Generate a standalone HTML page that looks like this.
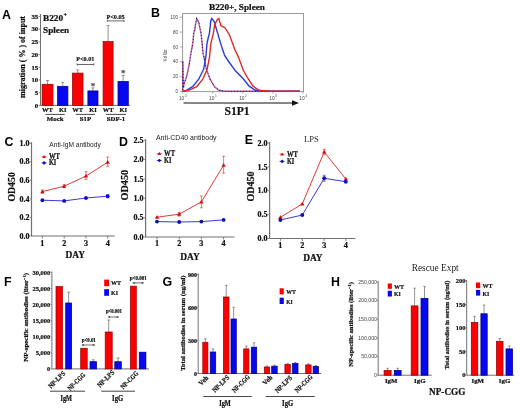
<!DOCTYPE html>
<html><head><meta charset="utf-8"><style>
html,body{margin:0;padding:0;background:#fff;width:520px;height:409px;overflow:hidden}
svg{display:block;will-change:transform;filter:blur(0.35px)}
</style></head><body>
<svg width="520" height="409" viewBox="0 0 520 409">
<rect width="520" height="409" fill="#fff"/>
<text x="2.0" y="18.9" font-family="Liberation Sans" font-weight="bold" font-size="12.4" text-anchor="start" fill="#000">A</text>
<line x1="40.5" y1="14" x2="40.5" y2="105.4" stroke="#707070" stroke-width="1"/>
<line x1="40.5" y1="105.4" x2="130" y2="105.4" stroke="#707070" stroke-width="1"/>
<line x1="38.5" y1="105.4" x2="40.5" y2="105.4" stroke="#707070" stroke-width="0.8"/>
<text x="38.2" y="107.7" font-family="Liberation Serif" font-weight="bold" font-size="6.8" text-anchor="end" fill="#111" stroke="#111" stroke-width="0.22">0</text>
<line x1="38.5" y1="92.69" x2="40.5" y2="92.69" stroke="#707070" stroke-width="0.8"/>
<text x="38.2" y="94.99" font-family="Liberation Serif" font-weight="bold" font-size="6.8" text-anchor="end" fill="#111" stroke="#111" stroke-width="0.22">5</text>
<line x1="38.5" y1="79.98" x2="40.5" y2="79.98" stroke="#707070" stroke-width="0.8"/>
<text x="38.2" y="82.28" font-family="Liberation Serif" font-weight="bold" font-size="6.8" text-anchor="end" fill="#111" stroke="#111" stroke-width="0.22">10</text>
<line x1="38.5" y1="67.27000000000001" x2="40.5" y2="67.27000000000001" stroke="#707070" stroke-width="0.8"/>
<text x="38.2" y="69.57000000000001" font-family="Liberation Serif" font-weight="bold" font-size="6.8" text-anchor="end" fill="#111" stroke="#111" stroke-width="0.22">15</text>
<line x1="38.5" y1="54.56" x2="40.5" y2="54.56" stroke="#707070" stroke-width="0.8"/>
<text x="38.2" y="56.86" font-family="Liberation Serif" font-weight="bold" font-size="6.8" text-anchor="end" fill="#111" stroke="#111" stroke-width="0.22">20</text>
<line x1="38.5" y1="41.85" x2="40.5" y2="41.85" stroke="#707070" stroke-width="0.8"/>
<text x="38.2" y="44.15" font-family="Liberation Serif" font-weight="bold" font-size="6.8" text-anchor="end" fill="#111" stroke="#111" stroke-width="0.22">25</text>
<line x1="38.5" y1="29.14" x2="40.5" y2="29.14" stroke="#707070" stroke-width="0.8"/>
<text x="38.2" y="31.44" font-family="Liberation Serif" font-weight="bold" font-size="6.8" text-anchor="end" fill="#111" stroke="#111" stroke-width="0.22">30</text>
<line x1="38.5" y1="16.429999999999993" x2="40.5" y2="16.429999999999993" stroke="#707070" stroke-width="0.8"/>
<text x="38.2" y="18.729999999999993" font-family="Liberation Serif" font-weight="bold" font-size="6.8" text-anchor="end" fill="#111" stroke="#111" stroke-width="0.22">35</text>
<text x="25.2" y="57" font-family="Liberation Serif" font-weight="bold" font-size="9.2" text-anchor="middle" fill="#111" stroke="#111" stroke-width="0.22" textLength="82" lengthAdjust="spacingAndGlyphs" transform="rotate(-90 25.2 57)">migration ( % ) of input</text>
<text x="43.1" y="21.3" font-family="Liberation Serif" font-weight="bold" font-size="9" text-anchor="start" fill="#111" stroke="#111" stroke-width="0.22" textLength="20" lengthAdjust="spacingAndGlyphs">B220</text>
<text x="63.6" y="17" font-family="Liberation Serif" font-weight="bold" font-size="6" text-anchor="start" fill="#111" stroke="#111" stroke-width="0.22">+</text>
<text x="43.1" y="32.5" font-family="Liberation Serif" font-weight="bold" font-size="9" text-anchor="start" fill="#111" stroke="#111" stroke-width="0.22" textLength="26" lengthAdjust="spacingAndGlyphs">Spleen</text>
<line x1="47.55" y1="80.5" x2="47.55" y2="84.3014" stroke="#777" stroke-width="0.8"/>
<line x1="46.05" y1="80.5" x2="49.05" y2="80.5" stroke="#777" stroke-width="0.8"/>
<rect x="42.1" y="84.3014" width="10.899999999999999" height="21.098600000000005" fill="#fa0000" stroke="#9a0000" stroke-width="0.75"/>
<line x1="62.75" y1="82.3" x2="62.75" y2="86.33500000000001" stroke="#777" stroke-width="0.8"/>
<line x1="61.25" y1="82.3" x2="64.25" y2="82.3" stroke="#777" stroke-width="0.8"/>
<rect x="57.6" y="86.33500000000001" width="10.300000000000004" height="19.064999999999998" fill="#0808f0" stroke="#000080" stroke-width="0.75"/>
<line x1="77.75" y1="70" x2="77.75" y2="73.1166" stroke="#777" stroke-width="0.8"/>
<line x1="76.25" y1="70" x2="79.25" y2="70" stroke="#777" stroke-width="0.8"/>
<rect x="72.5" y="73.1166" width="10.5" height="32.2834" fill="#fa0000" stroke="#9a0000" stroke-width="0.75"/>
<line x1="92.95" y1="87.9" x2="92.95" y2="90.9106" stroke="#777" stroke-width="0.8"/>
<line x1="91.45" y1="87.9" x2="94.45" y2="87.9" stroke="#777" stroke-width="0.8"/>
<rect x="87.9" y="90.9106" width="10.099999999999994" height="14.489400000000003" fill="#0808f0" stroke="#000080" stroke-width="0.75"/>
<line x1="108.1" y1="25.6" x2="108.1" y2="41.5958" stroke="#777" stroke-width="0.8"/>
<line x1="106.6" y1="25.6" x2="109.6" y2="25.6" stroke="#777" stroke-width="0.8"/>
<rect x="103.1" y="41.5958" width="10.0" height="63.80420000000001" fill="#fa0000" stroke="#9a0000" stroke-width="0.75"/>
<line x1="123.15" y1="75.4" x2="123.15" y2="81.5052" stroke="#777" stroke-width="0.8"/>
<line x1="121.65" y1="75.4" x2="124.65" y2="75.4" stroke="#777" stroke-width="0.8"/>
<rect x="118" y="81.5052" width="10.300000000000011" height="23.894800000000004" fill="#0808f0" stroke="#000080" stroke-width="0.75"/>
<text x="93" y="88.8" font-family="Liberation Serif" font-weight="bold" font-size="9" text-anchor="middle" fill="#555" stroke="#555" stroke-width="0.22">*</text>
<text x="123.2" y="76.2" font-family="Liberation Serif" font-weight="bold" font-size="9" text-anchor="middle" fill="#555" stroke="#555" stroke-width="0.22">*</text>
<text x="85.3" y="61" font-family="Liberation Serif" font-weight="bold" font-size="6.8" text-anchor="middle" fill="#111" stroke="#111" stroke-width="0.22" textLength="18" lengthAdjust="spacingAndGlyphs">P&lt;0.01</text>
<line x1="77.1" y1="64.5" x2="93.8" y2="64.5" stroke="#444" stroke-width="0.8"/>
<line x1="77.1" y1="63.3" x2="77.1" y2="65.7" stroke="#444" stroke-width="0.7"/>
<line x1="93.8" y1="63.3" x2="93.8" y2="65.7" stroke="#444" stroke-width="0.7"/>
<text x="115.6" y="18.6" font-family="Liberation Serif" font-weight="bold" font-size="6.8" text-anchor="middle" fill="#111" stroke="#111" stroke-width="0.22" textLength="18.3" lengthAdjust="spacingAndGlyphs">P&lt;0.05</text>
<line x1="107.3" y1="20.9" x2="124" y2="20.9" stroke="#444" stroke-width="0.8"/>
<line x1="107.3" y1="19.7" x2="107.3" y2="22.099999999999998" stroke="#444" stroke-width="0.7"/>
<line x1="124" y1="19.7" x2="124" y2="22.099999999999998" stroke="#444" stroke-width="0.7"/>
<text x="47.5" y="112.3" font-family="Liberation Serif" font-weight="bold" font-size="6.5" text-anchor="middle" fill="#111" stroke="#111" stroke-width="0.22">WT</text>
<text x="62.7" y="112.3" font-family="Liberation Serif" font-weight="bold" font-size="6.5" text-anchor="middle" fill="#111" stroke="#111" stroke-width="0.22">KI</text>
<text x="77.7" y="112.3" font-family="Liberation Serif" font-weight="bold" font-size="6.5" text-anchor="middle" fill="#111" stroke="#111" stroke-width="0.22">WT</text>
<text x="93" y="112.3" font-family="Liberation Serif" font-weight="bold" font-size="6.5" text-anchor="middle" fill="#111" stroke="#111" stroke-width="0.22">KI</text>
<text x="108.2" y="112.3" font-family="Liberation Serif" font-weight="bold" font-size="6.5" text-anchor="middle" fill="#111" stroke="#111" stroke-width="0.22">WT</text>
<text x="123.2" y="112.3" font-family="Liberation Serif" font-weight="bold" font-size="6.5" text-anchor="middle" fill="#111" stroke="#111" stroke-width="0.22">KI</text>
<line x1="45.5" y1="114.4" x2="64.8" y2="114.4" stroke="#333" stroke-width="0.9"/>
<text x="55.15" y="121.2" font-family="Liberation Serif" font-weight="bold" font-size="6.8" text-anchor="middle" fill="#111" stroke="#111" stroke-width="0.22">Mock</text>
<line x1="75.8" y1="114.4" x2="95" y2="114.4" stroke="#333" stroke-width="0.9"/>
<text x="85.4" y="121.2" font-family="Liberation Serif" font-weight="bold" font-size="6.8" text-anchor="middle" fill="#111" stroke="#111" stroke-width="0.22">S1P</text>
<line x1="106" y1="114.4" x2="126" y2="114.4" stroke="#333" stroke-width="0.9"/>
<text x="116.0" y="121.2" font-family="Liberation Serif" font-weight="bold" font-size="6.8" text-anchor="middle" fill="#111" stroke="#111" stroke-width="0.22">SDF-1</text>
<text x="150.9" y="17.4" font-family="Liberation Sans" font-weight="bold" font-size="12.4" text-anchor="start" fill="#000">B</text>
<text x="237" y="9.5" font-family="Liberation Serif" font-weight="bold" font-size="9" text-anchor="middle" fill="#111" stroke="#111" stroke-width="0.22" textLength="56" lengthAdjust="spacingAndGlyphs">B220+, Spleen</text>
<rect x="182.6" y="13.5" width="120.9" height="78.1" fill="none" stroke="#9a9a9a" stroke-width="1"/>
<line x1="179.6" y1="91.6" x2="182.6" y2="91.6" stroke="#777" stroke-width="0.6"/>
<text x="178.1" y="93.19999999999999" font-family="Liberation Sans" font-weight="normal" font-size="4.5" text-anchor="end" fill="#444">0</text>
<line x1="179.6" y1="76.72" x2="182.6" y2="76.72" stroke="#777" stroke-width="0.6"/>
<text x="178.1" y="78.32" font-family="Liberation Sans" font-weight="normal" font-size="4.5" text-anchor="end" fill="#444">20</text>
<line x1="179.6" y1="61.84" x2="182.6" y2="61.84" stroke="#777" stroke-width="0.6"/>
<text x="178.1" y="63.440000000000005" font-family="Liberation Sans" font-weight="normal" font-size="4.5" text-anchor="end" fill="#444">40</text>
<line x1="179.6" y1="46.96" x2="182.6" y2="46.96" stroke="#777" stroke-width="0.6"/>
<text x="178.1" y="48.56" font-family="Liberation Sans" font-weight="normal" font-size="4.5" text-anchor="end" fill="#444">60</text>
<line x1="179.6" y1="32.080000000000005" x2="182.6" y2="32.080000000000005" stroke="#777" stroke-width="0.6"/>
<text x="178.1" y="33.68000000000001" font-family="Liberation Sans" font-weight="normal" font-size="4.5" text-anchor="end" fill="#444">80</text>
<line x1="179.6" y1="17.200000000000003" x2="182.6" y2="17.200000000000003" stroke="#777" stroke-width="0.6"/>
<text x="178.1" y="18.800000000000004" font-family="Liberation Sans" font-weight="normal" font-size="4.5" text-anchor="end" fill="#444">100</text>
<text x="167" y="55.6" font-family="Liberation Sans" font-weight="normal" font-size="5" text-anchor="middle" fill="#333" textLength="12" lengthAdjust="spacingAndGlyphs" transform="rotate(-90 167 55.6)">% of Max</text>
<line x1="182.6" y1="91.6" x2="182.6" y2="93.6" stroke="#777" stroke-width="0.6"/>
<text x="181.6" y="100.2" font-family="Liberation Sans" font-weight="normal" font-size="4.8" text-anchor="middle" fill="#444">10</text>
<text x="184.79999999999998" y="97.4" font-family="Liberation Sans" font-weight="normal" font-size="3.2" text-anchor="start" fill="#444">0</text>
<line x1="212.7" y1="91.6" x2="212.7" y2="93.6" stroke="#777" stroke-width="0.6"/>
<text x="211.7" y="100.2" font-family="Liberation Sans" font-weight="normal" font-size="4.8" text-anchor="middle" fill="#444">10</text>
<text x="214.89999999999998" y="97.4" font-family="Liberation Sans" font-weight="normal" font-size="3.2" text-anchor="start" fill="#444">1</text>
<line x1="242.8" y1="91.6" x2="242.8" y2="93.6" stroke="#777" stroke-width="0.6"/>
<text x="241.8" y="100.2" font-family="Liberation Sans" font-weight="normal" font-size="4.8" text-anchor="middle" fill="#444">10</text>
<text x="245.0" y="97.4" font-family="Liberation Sans" font-weight="normal" font-size="3.2" text-anchor="start" fill="#444">2</text>
<line x1="272.9" y1="91.6" x2="272.9" y2="93.6" stroke="#777" stroke-width="0.6"/>
<text x="271.9" y="100.2" font-family="Liberation Sans" font-weight="normal" font-size="4.8" text-anchor="middle" fill="#444">10</text>
<text x="275.09999999999997" y="97.4" font-family="Liberation Sans" font-weight="normal" font-size="3.2" text-anchor="start" fill="#444">3</text>
<line x1="303.0" y1="91.6" x2="303.0" y2="93.6" stroke="#777" stroke-width="0.6"/>
<text x="302.0" y="100.2" font-family="Liberation Sans" font-weight="normal" font-size="4.8" text-anchor="middle" fill="#444">10</text>
<text x="305.2" y="97.4" font-family="Liberation Sans" font-weight="normal" font-size="3.2" text-anchor="start" fill="#444">4</text>
<line x1="183.5" y1="103" x2="294" y2="103" stroke="#111" stroke-width="1.1"/>
<polygon points="292,100.3 299,103 292,105.7" fill="#111"/>
<text x="237" y="114.8" font-family="Liberation Serif" font-weight="bold" font-size="13" text-anchor="middle" fill="#111" stroke="#111" stroke-width="0.22" textLength="25" lengthAdjust="spacingAndGlyphs">S1P1</text>
<polyline points="182.8,91.5 182.8,61.0 183.3,88.0 184.0,84.1 186.9,75.6 189.4,63.3 190.8,54.0 192.8,43.4 193.7,33.6 194.7,29.6 195.3,25.7 196.7,18.6 198.6,21.8 199.6,26.7 201.1,33.6 202.1,43.4 203.1,54.0 204.2,58.0 206.4,69.4 210.1,79.2 214.4,86.6 218.7,90.2 226.0,91.3 300.0,91.3" fill="none" stroke="#d83050" stroke-width="1.4" stroke-dasharray="1.3,1.7"/>
<polyline points="182.8,91.5 182.8,61.0 183.3,88.0 184.0,84.1 186.9,75.6 189.4,63.3 190.8,54.0 192.8,43.4 193.7,33.6 194.7,29.6 195.3,25.7 196.7,18.6 198.6,21.8 199.6,26.7 201.1,33.6 202.1,43.4 203.1,54.0 204.2,58.0 206.4,69.4 210.1,79.2 214.4,86.6 218.7,90.2 226.0,91.3 300.0,91.3" fill="none" stroke="#3020a0" stroke-width="1.4" stroke-dasharray="1.3,1.7" stroke-dashoffset="1.5"/>
<polyline points="183.0,91.3 186.9,90.2 192.6,86.6 198.7,79.2 203.6,69.4 205.8,57.2 207.0,43.4 208.4,37.0 209.4,33.6 210.8,21.0 211.8,18.4 214.3,21.8 216.3,28.7 217.8,33.6 220.6,43.4 224.6,55.4 229.0,62.0 235.4,70.8 243.0,78.5 249.2,86.2 255.4,90.3 265.0,91.3 300.0,91.3" fill="none" stroke="#2a3ad8" stroke-width="1.4"/>
<polyline points="183.0,91.3 189.3,90.2 196.7,86.6 202.8,79.2 207.1,69.4 209.5,57.2 210.9,43.4 213.3,33.6 214.8,23.8 215.5,23.3 217.0,20.0 218.7,18.4 221.0,25.7 224.9,27.7 229.5,35.0 235.0,50.0 238.8,58.0 243.5,70.8 248.0,78.5 253.0,86.2 259.0,90.3 268.6,91.3 300.0,91.3" fill="none" stroke="#e02828" stroke-width="1.4"/>
<text x="4.4" y="145.6" font-family="Liberation Sans" font-weight="bold" font-size="12.4" text-anchor="start" fill="#000">C</text>
<line x1="31.5" y1="142.2" x2="31.5" y2="236" stroke="#707070" stroke-width="1.2"/>
<line x1="31.5" y1="236" x2="114.8" y2="236" stroke="#707070" stroke-width="1.2"/>
<line x1="29.5" y1="236.0" x2="31.5" y2="236.0" stroke="#707070" stroke-width="0.8"/>
<text x="29.5" y="238.7" font-family="Liberation Serif" font-weight="bold" font-size="8" text-anchor="end" fill="#111" stroke="#111" stroke-width="0.22">0.0</text>
<line x1="29.5" y1="217.44" x2="31.5" y2="217.44" stroke="#707070" stroke-width="0.8"/>
<text x="29.5" y="220.14" font-family="Liberation Serif" font-weight="bold" font-size="8" text-anchor="end" fill="#111" stroke="#111" stroke-width="0.22">0.2</text>
<line x1="29.5" y1="198.88" x2="31.5" y2="198.88" stroke="#707070" stroke-width="0.8"/>
<text x="29.5" y="201.57999999999998" font-family="Liberation Serif" font-weight="bold" font-size="8" text-anchor="end" fill="#111" stroke="#111" stroke-width="0.22">0.4</text>
<line x1="29.5" y1="180.32" x2="31.5" y2="180.32" stroke="#707070" stroke-width="0.8"/>
<text x="29.5" y="183.01999999999998" font-family="Liberation Serif" font-weight="bold" font-size="8" text-anchor="end" fill="#111" stroke="#111" stroke-width="0.22">0.6</text>
<line x1="29.5" y1="161.76" x2="31.5" y2="161.76" stroke="#707070" stroke-width="0.8"/>
<text x="29.5" y="164.45999999999998" font-family="Liberation Serif" font-weight="bold" font-size="8" text-anchor="end" fill="#111" stroke="#111" stroke-width="0.22">0.8</text>
<line x1="29.5" y1="143.2" x2="31.5" y2="143.2" stroke="#707070" stroke-width="0.8"/>
<text x="29.5" y="145.89999999999998" font-family="Liberation Serif" font-weight="bold" font-size="8" text-anchor="end" fill="#111" stroke="#111" stroke-width="0.22">1.0</text>
<line x1="42.4" y1="236" x2="42.4" y2="238.5" stroke="#707070" stroke-width="0.9"/>
<text x="42.4" y="245.9" font-family="Liberation Serif" font-weight="bold" font-size="8.2" text-anchor="middle" fill="#111" stroke="#111" stroke-width="0.22">1</text>
<line x1="64.2" y1="236" x2="64.2" y2="238.5" stroke="#707070" stroke-width="0.9"/>
<text x="64.2" y="245.9" font-family="Liberation Serif" font-weight="bold" font-size="8.2" text-anchor="middle" fill="#111" stroke="#111" stroke-width="0.22">2</text>
<line x1="86" y1="236" x2="86" y2="238.5" stroke="#707070" stroke-width="0.9"/>
<text x="86" y="245.9" font-family="Liberation Serif" font-weight="bold" font-size="8.2" text-anchor="middle" fill="#111" stroke="#111" stroke-width="0.22">3</text>
<line x1="107.7" y1="236" x2="107.7" y2="238.5" stroke="#707070" stroke-width="0.9"/>
<text x="107.7" y="245.9" font-family="Liberation Serif" font-weight="bold" font-size="8.2" text-anchor="middle" fill="#111" stroke="#111" stroke-width="0.22">4</text>
<text x="75.3" y="257.8" font-family="Liberation Serif" font-weight="bold" font-size="9.5" text-anchor="middle" fill="#111" stroke="#111" stroke-width="0.22" textLength="19.5" lengthAdjust="spacingAndGlyphs">DAY</text>
<text x="15.5" y="186.9" font-family="Liberation Serif" font-weight="bold" font-size="10.3" text-anchor="middle" fill="#111" stroke="#111" stroke-width="0.22" textLength="29.4" lengthAdjust="spacingAndGlyphs" transform="rotate(-90 15.5 186.9)">OD450</text>
<text x="49.3" y="146.8" font-family="Liberation Sans" font-weight="normal" font-size="6.8" text-anchor="start" fill="#222" textLength="51.5" lengthAdjust="spacingAndGlyphs">Anti-IgM antibody</text>
<line x1="42.4" y1="190" x2="42.4" y2="193.2" stroke="#e04040" stroke-width="0.7"/>
<line x1="40.9" y1="190" x2="43.9" y2="190" stroke="#e04040" stroke-width="0.7"/>
<line x1="40.9" y1="193.2" x2="43.9" y2="193.2" stroke="#e04040" stroke-width="0.7"/>
<line x1="64.2" y1="184.8" x2="64.2" y2="187.6" stroke="#e04040" stroke-width="0.7"/>
<line x1="62.7" y1="184.8" x2="65.7" y2="184.8" stroke="#e04040" stroke-width="0.7"/>
<line x1="62.7" y1="187.6" x2="65.7" y2="187.6" stroke="#e04040" stroke-width="0.7"/>
<line x1="86" y1="171.7" x2="86" y2="179.5" stroke="#e04040" stroke-width="0.7"/>
<line x1="84.5" y1="171.7" x2="87.5" y2="171.7" stroke="#e04040" stroke-width="0.7"/>
<line x1="84.5" y1="179.5" x2="87.5" y2="179.5" stroke="#e04040" stroke-width="0.7"/>
<line x1="107.7" y1="157" x2="107.7" y2="166.2" stroke="#e04040" stroke-width="0.7"/>
<line x1="106.2" y1="157" x2="109.2" y2="157" stroke="#e04040" stroke-width="0.7"/>
<line x1="106.2" y1="166.2" x2="109.2" y2="166.2" stroke="#e04040" stroke-width="0.7"/>
<line x1="107.7" y1="194.6" x2="107.7" y2="197.8" stroke="#4040e0" stroke-width="0.7"/>
<line x1="106.2" y1="194.6" x2="109.2" y2="194.6" stroke="#4040e0" stroke-width="0.7"/>
<line x1="106.2" y1="197.8" x2="109.2" y2="197.8" stroke="#4040e0" stroke-width="0.7"/>
<polyline points="42.4,191.6 64.2,186.2 86.0,176.0 107.7,162.2" fill="none" stroke="#e03a3a" stroke-width="1"/>
<polyline points="42.4,200.2 64.2,200.9 86.0,198.0 107.7,196.2" fill="none" stroke="#3a3ae0" stroke-width="1"/>
<polygon points="40.199999999999996,193.2 44.6,193.2 42.4,189.4" fill="#d01010"/>
<polygon points="62.0,187.79999999999998 66.4,187.79999999999998 64.2,184.0" fill="#d01010"/>
<polygon points="83.8,177.6 88.2,177.6 86,173.8" fill="#d01010"/>
<polygon points="105.5,163.79999999999998 109.9,163.79999999999998 107.7,160.0" fill="#d01010"/>
<circle cx="42.4" cy="200.2" r="1.95" fill="#1010b0"/>
<circle cx="64.2" cy="200.9" r="1.95" fill="#1010b0"/>
<circle cx="86" cy="198" r="1.95" fill="#1010b0"/>
<circle cx="107.7" cy="196.2" r="1.95" fill="#1010b0"/>
<line x1="41.599999999999994" y1="156.7" x2="46.599999999999994" y2="156.7" stroke="#e83030" stroke-width="0.8"/>
<polygon points="42.3,158.0 45.89999999999999,158.0 44.099999999999994,154.89999999999998" fill="#d01010"/>
<text x="48.89999999999999" y="159.0" font-family="Liberation Serif" font-weight="bold" font-size="7.3" text-anchor="start" fill="#111" stroke="#111" stroke-width="0.22" textLength="11" lengthAdjust="spacingAndGlyphs">WT</text>
<line x1="41.599999999999994" y1="162.89999999999998" x2="46.599999999999994" y2="162.89999999999998" stroke="#3030e8" stroke-width="0.8"/>
<polygon points="42.099999999999994,162.89999999999998 44.099999999999994,161.09999999999997 46.099999999999994,162.89999999999998 44.099999999999994,164.7" fill="#1010c0"/>
<text x="48.89999999999999" y="165.2" font-family="Liberation Serif" font-weight="bold" font-size="7.3" text-anchor="start" fill="#111" stroke="#111" stroke-width="0.22" textLength="7.4" lengthAdjust="spacingAndGlyphs">KI</text>
<text x="118.9" y="145.6" font-family="Liberation Sans" font-weight="bold" font-size="12.4" text-anchor="start" fill="#000">D</text>
<line x1="145.6" y1="139.2" x2="145.6" y2="237" stroke="#707070" stroke-width="1.2"/>
<line x1="145.6" y1="237" x2="234.6" y2="237" stroke="#707070" stroke-width="1.2"/>
<line x1="143.6" y1="237.0" x2="145.6" y2="237.0" stroke="#707070" stroke-width="0.8"/>
<text x="143.5" y="239.7" font-family="Liberation Serif" font-weight="bold" font-size="8" text-anchor="end" fill="#111" stroke="#111" stroke-width="0.22">0.0</text>
<line x1="143.6" y1="217.65" x2="145.6" y2="217.65" stroke="#707070" stroke-width="0.8"/>
<text x="143.5" y="220.35" font-family="Liberation Serif" font-weight="bold" font-size="8" text-anchor="end" fill="#111" stroke="#111" stroke-width="0.22">0.5</text>
<line x1="143.6" y1="198.3" x2="145.6" y2="198.3" stroke="#707070" stroke-width="0.8"/>
<text x="143.5" y="201.0" font-family="Liberation Serif" font-weight="bold" font-size="8" text-anchor="end" fill="#111" stroke="#111" stroke-width="0.22">1.0</text>
<line x1="143.6" y1="178.95" x2="145.6" y2="178.95" stroke="#707070" stroke-width="0.8"/>
<text x="143.5" y="181.64999999999998" font-family="Liberation Serif" font-weight="bold" font-size="8" text-anchor="end" fill="#111" stroke="#111" stroke-width="0.22">1.5</text>
<line x1="143.6" y1="159.6" x2="145.6" y2="159.6" stroke="#707070" stroke-width="0.8"/>
<text x="143.5" y="162.29999999999998" font-family="Liberation Serif" font-weight="bold" font-size="8" text-anchor="end" fill="#111" stroke="#111" stroke-width="0.22">2.0</text>
<line x1="143.6" y1="140.25" x2="145.6" y2="140.25" stroke="#707070" stroke-width="0.8"/>
<text x="143.5" y="142.95" font-family="Liberation Serif" font-weight="bold" font-size="8" text-anchor="end" fill="#111" stroke="#111" stroke-width="0.22">2.5</text>
<line x1="157" y1="237" x2="157" y2="239.5" stroke="#707070" stroke-width="0.9"/>
<text x="157" y="246.4" font-family="Liberation Serif" font-weight="bold" font-size="8.2" text-anchor="middle" fill="#111" stroke="#111" stroke-width="0.22">1</text>
<line x1="179.2" y1="237" x2="179.2" y2="239.5" stroke="#707070" stroke-width="0.9"/>
<text x="179.2" y="246.4" font-family="Liberation Serif" font-weight="bold" font-size="8.2" text-anchor="middle" fill="#111" stroke="#111" stroke-width="0.22">2</text>
<line x1="201.4" y1="237" x2="201.4" y2="239.5" stroke="#707070" stroke-width="0.9"/>
<text x="201.4" y="246.4" font-family="Liberation Serif" font-weight="bold" font-size="8.2" text-anchor="middle" fill="#111" stroke="#111" stroke-width="0.22">3</text>
<line x1="223.6" y1="237" x2="223.6" y2="239.5" stroke="#707070" stroke-width="0.9"/>
<text x="223.6" y="246.4" font-family="Liberation Serif" font-weight="bold" font-size="8.2" text-anchor="middle" fill="#111" stroke="#111" stroke-width="0.22">4</text>
<text x="190" y="260" font-family="Liberation Serif" font-weight="bold" font-size="9.5" text-anchor="middle" fill="#111" stroke="#111" stroke-width="0.22" textLength="19.5" lengthAdjust="spacingAndGlyphs">DAY</text>
<text x="128.5" y="185.2" font-family="Liberation Serif" font-weight="bold" font-size="10.3" text-anchor="middle" fill="#111" stroke="#111" stroke-width="0.22" textLength="30.6" lengthAdjust="spacingAndGlyphs" transform="rotate(-90 128.5 185.2)">OD450</text>
<text x="155.9" y="139.7" font-family="Liberation Sans" font-weight="normal" font-size="6.8" text-anchor="start" fill="#222" textLength="60.7" lengthAdjust="spacingAndGlyphs">Anti-CD40 antibody</text>
<line x1="179.2" y1="212.3" x2="179.2" y2="216.1" stroke="#e04040" stroke-width="0.7"/>
<line x1="177.7" y1="212.3" x2="180.7" y2="212.3" stroke="#e04040" stroke-width="0.7"/>
<line x1="177.7" y1="216.1" x2="180.7" y2="216.1" stroke="#e04040" stroke-width="0.7"/>
<line x1="201.4" y1="196" x2="201.4" y2="207.8" stroke="#e04040" stroke-width="0.7"/>
<line x1="199.9" y1="196" x2="202.9" y2="196" stroke="#e04040" stroke-width="0.7"/>
<line x1="199.9" y1="207.8" x2="202.9" y2="207.8" stroke="#e04040" stroke-width="0.7"/>
<line x1="223.6" y1="156.3" x2="223.6" y2="173.2" stroke="#e04040" stroke-width="0.7"/>
<line x1="222.1" y1="156.3" x2="225.1" y2="156.3" stroke="#e04040" stroke-width="0.7"/>
<line x1="222.1" y1="173.2" x2="225.1" y2="173.2" stroke="#e04040" stroke-width="0.7"/>
<polyline points="157.0,217.2 179.2,214.2 201.4,201.9 223.6,165.2" fill="none" stroke="#e03a3a" stroke-width="1"/>
<polyline points="157.0,221.6 179.2,222.0 201.4,221.6 223.6,219.9" fill="none" stroke="#3a3ae0" stroke-width="1"/>
<polygon points="154.8,218.79999999999998 159.2,218.79999999999998 157,215.0" fill="#d01010"/>
<polygon points="177.0,215.79999999999998 181.39999999999998,215.79999999999998 179.2,212.0" fill="#d01010"/>
<polygon points="199.20000000000002,203.5 203.6,203.5 201.4,199.70000000000002" fill="#d01010"/>
<polygon points="221.4,166.79999999999998 225.79999999999998,166.79999999999998 223.6,163.0" fill="#d01010"/>
<circle cx="157" cy="221.6" r="1.95" fill="#1010b0"/>
<circle cx="179.2" cy="222" r="1.95" fill="#1010b0"/>
<circle cx="201.4" cy="221.6" r="1.95" fill="#1010b0"/>
<circle cx="223.6" cy="219.9" r="1.95" fill="#1010b0"/>
<line x1="156.8" y1="153.6" x2="161.8" y2="153.6" stroke="#e83030" stroke-width="0.8"/>
<polygon points="157.5,154.9 161.10000000000002,154.9 159.3,151.79999999999998" fill="#d01010"/>
<text x="164.10000000000002" y="155.9" font-family="Liberation Serif" font-weight="bold" font-size="7.3" text-anchor="start" fill="#111" stroke="#111" stroke-width="0.22" textLength="11" lengthAdjust="spacingAndGlyphs">WT</text>
<line x1="156.8" y1="160.5" x2="161.8" y2="160.5" stroke="#3030e8" stroke-width="0.8"/>
<polygon points="157.3,160.5 159.3,158.7 161.3,160.5 159.3,162.3" fill="#1010c0"/>
<text x="164.10000000000002" y="162.8" font-family="Liberation Serif" font-weight="bold" font-size="7.3" text-anchor="start" fill="#111" stroke="#111" stroke-width="0.22" textLength="7.4" lengthAdjust="spacingAndGlyphs">KI</text>
<text x="244.7" y="143.9" font-family="Liberation Sans" font-weight="bold" font-size="12.4" text-anchor="start" fill="#000">E</text>
<line x1="269.6" y1="142" x2="269.6" y2="238.5" stroke="#707070" stroke-width="1.2"/>
<line x1="269.6" y1="238.5" x2="355.4" y2="238.5" stroke="#707070" stroke-width="1.2"/>
<line x1="267.6" y1="238.5" x2="269.6" y2="238.5" stroke="#707070" stroke-width="0.8"/>
<text x="267.5" y="241.2" font-family="Liberation Serif" font-weight="bold" font-size="8" text-anchor="end" fill="#111" stroke="#111" stroke-width="0.22">0.0</text>
<line x1="267.6" y1="214.625" x2="269.6" y2="214.625" stroke="#707070" stroke-width="0.8"/>
<text x="267.5" y="217.325" font-family="Liberation Serif" font-weight="bold" font-size="8" text-anchor="end" fill="#111" stroke="#111" stroke-width="0.22">0.5</text>
<line x1="267.6" y1="190.75" x2="269.6" y2="190.75" stroke="#707070" stroke-width="0.8"/>
<text x="267.5" y="193.45" font-family="Liberation Serif" font-weight="bold" font-size="8" text-anchor="end" fill="#111" stroke="#111" stroke-width="0.22">1.0</text>
<line x1="267.6" y1="166.875" x2="269.6" y2="166.875" stroke="#707070" stroke-width="0.8"/>
<text x="267.5" y="169.575" font-family="Liberation Serif" font-weight="bold" font-size="8" text-anchor="end" fill="#111" stroke="#111" stroke-width="0.22">1.5</text>
<line x1="267.6" y1="143.0" x2="269.6" y2="143.0" stroke="#707070" stroke-width="0.8"/>
<text x="267.5" y="145.7" font-family="Liberation Serif" font-weight="bold" font-size="8" text-anchor="end" fill="#111" stroke="#111" stroke-width="0.22">2.0</text>
<line x1="280.4" y1="238.5" x2="280.4" y2="241.0" stroke="#707070" stroke-width="0.9"/>
<text x="280.4" y="248.4" font-family="Liberation Serif" font-weight="bold" font-size="8.2" text-anchor="middle" fill="#111" stroke="#111" stroke-width="0.22">1</text>
<line x1="302.3" y1="238.5" x2="302.3" y2="241.0" stroke="#707070" stroke-width="0.9"/>
<text x="302.3" y="248.4" font-family="Liberation Serif" font-weight="bold" font-size="8.2" text-anchor="middle" fill="#111" stroke="#111" stroke-width="0.22">2</text>
<line x1="324.2" y1="238.5" x2="324.2" y2="241.0" stroke="#707070" stroke-width="0.9"/>
<text x="324.2" y="248.4" font-family="Liberation Serif" font-weight="bold" font-size="8.2" text-anchor="middle" fill="#111" stroke="#111" stroke-width="0.22">3</text>
<line x1="345.8" y1="238.5" x2="345.8" y2="241.0" stroke="#707070" stroke-width="0.9"/>
<text x="345.8" y="248.4" font-family="Liberation Serif" font-weight="bold" font-size="8.2" text-anchor="middle" fill="#111" stroke="#111" stroke-width="0.22">4</text>
<text x="312.9" y="261.2" font-family="Liberation Serif" font-weight="bold" font-size="9.5" text-anchor="middle" fill="#111" stroke="#111" stroke-width="0.22" textLength="19.5" lengthAdjust="spacingAndGlyphs">DAY</text>
<text x="253.7" y="186.6" font-family="Liberation Serif" font-weight="bold" font-size="10.3" text-anchor="middle" fill="#111" stroke="#111" stroke-width="0.22" textLength="30" lengthAdjust="spacingAndGlyphs" transform="rotate(-90 253.7 186.6)">OD450</text>
<text x="304" y="141.5" font-family="Liberation Serif" font-weight="normal" font-size="9" text-anchor="start" fill="#222" textLength="14.8" lengthAdjust="spacingAndGlyphs">LPS</text>
<line x1="324.2" y1="149.3" x2="324.2" y2="154.7" stroke="#e04040" stroke-width="0.7"/>
<line x1="322.7" y1="149.3" x2="325.7" y2="149.3" stroke="#e04040" stroke-width="0.7"/>
<line x1="322.7" y1="154.7" x2="325.7" y2="154.7" stroke="#e04040" stroke-width="0.7"/>
<line x1="324.2" y1="175.3" x2="324.2" y2="181.3" stroke="#4040e0" stroke-width="0.7"/>
<line x1="322.7" y1="175.3" x2="325.7" y2="175.3" stroke="#4040e0" stroke-width="0.7"/>
<line x1="322.7" y1="181.3" x2="325.7" y2="181.3" stroke="#4040e0" stroke-width="0.7"/>
<polyline points="280.4,217.3 302.3,203.9 324.2,152.0 345.8,179.0" fill="none" stroke="#e03a3a" stroke-width="1"/>
<polyline points="280.4,220.0 302.3,215.0 324.2,178.3 345.8,181.7" fill="none" stroke="#3a3ae0" stroke-width="1"/>
<polygon points="278.2,218.9 282.59999999999997,218.9 280.4,215.10000000000002" fill="#d01010"/>
<polygon points="300.1,205.5 304.5,205.5 302.3,201.70000000000002" fill="#d01010"/>
<polygon points="322.0,153.6 326.4,153.6 324.2,149.8" fill="#d01010"/>
<polygon points="343.6,180.6 348.0,180.6 345.8,176.8" fill="#d01010"/>
<circle cx="280.4" cy="220" r="1.95" fill="#1010b0"/>
<circle cx="302.3" cy="215" r="1.95" fill="#1010b0"/>
<circle cx="324.2" cy="178.3" r="1.95" fill="#1010b0"/>
<circle cx="345.8" cy="181.7" r="1.95" fill="#1010b0"/>
<line x1="279.6" y1="154.2" x2="284.6" y2="154.2" stroke="#e83030" stroke-width="0.8"/>
<polygon points="280.3,155.5 283.90000000000003,155.5 282.1,152.39999999999998" fill="#d01010"/>
<text x="286.90000000000003" y="156.5" font-family="Liberation Serif" font-weight="bold" font-size="7.3" text-anchor="start" fill="#111" stroke="#111" stroke-width="0.22" textLength="11" lengthAdjust="spacingAndGlyphs">WT</text>
<line x1="279.6" y1="161.39999999999998" x2="284.6" y2="161.39999999999998" stroke="#3030e8" stroke-width="0.8"/>
<polygon points="280.1,161.39999999999998 282.1,159.59999999999997 284.1,161.39999999999998 282.1,163.2" fill="#1010c0"/>
<text x="286.90000000000003" y="163.7" font-family="Liberation Serif" font-weight="bold" font-size="7.3" text-anchor="start" fill="#111" stroke="#111" stroke-width="0.22" textLength="7.4" lengthAdjust="spacingAndGlyphs">KI</text>
<text x="4.0" y="285.6" font-family="Liberation Sans" font-weight="bold" font-size="12.4" text-anchor="start" fill="#000">F</text>
<line x1="51.9" y1="271.5" x2="51.9" y2="368.9" stroke="#707070" stroke-width="1"/>
<line x1="51.9" y1="368.9" x2="149" y2="368.9" stroke="#707070" stroke-width="1"/>
<line x1="50.4" y1="368.9" x2="51.9" y2="368.9" stroke="#707070" stroke-width="0.7"/>
<text x="50.3" y="371.0" font-family="Liberation Serif" font-weight="bold" font-size="6.5" text-anchor="end" fill="#111" stroke="#111" stroke-width="0.22">0</text>
<line x1="50.4" y1="352.82" x2="51.9" y2="352.82" stroke="#707070" stroke-width="0.7"/>
<text x="50.3" y="354.92" font-family="Liberation Serif" font-weight="bold" font-size="6.5" text-anchor="end" fill="#111" stroke="#111" stroke-width="0.22">5,000</text>
<line x1="50.4" y1="336.74" x2="51.9" y2="336.74" stroke="#707070" stroke-width="0.7"/>
<text x="50.3" y="338.84000000000003" font-family="Liberation Serif" font-weight="bold" font-size="6.5" text-anchor="end" fill="#111" stroke="#111" stroke-width="0.22">10,000</text>
<line x1="50.4" y1="320.65999999999997" x2="51.9" y2="320.65999999999997" stroke="#707070" stroke-width="0.7"/>
<text x="50.3" y="322.76" font-family="Liberation Serif" font-weight="bold" font-size="6.5" text-anchor="end" fill="#111" stroke="#111" stroke-width="0.22">15,000</text>
<line x1="50.4" y1="304.58" x2="51.9" y2="304.58" stroke="#707070" stroke-width="0.7"/>
<text x="50.3" y="306.68" font-family="Liberation Serif" font-weight="bold" font-size="6.5" text-anchor="end" fill="#111" stroke="#111" stroke-width="0.22">20,000</text>
<line x1="50.4" y1="288.5" x2="51.9" y2="288.5" stroke="#707070" stroke-width="0.7"/>
<text x="50.3" y="290.6" font-family="Liberation Serif" font-weight="bold" font-size="6.5" text-anchor="end" fill="#111" stroke="#111" stroke-width="0.22">25,000</text>
<line x1="50.4" y1="272.41999999999996" x2="51.9" y2="272.41999999999996" stroke="#707070" stroke-width="0.7"/>
<text x="50.3" y="274.52" font-family="Liberation Serif" font-weight="bold" font-size="6.5" text-anchor="end" fill="#111" stroke="#111" stroke-width="0.22">30,000</text>
<text x="28.5" y="317.3" font-family="Liberation Serif" font-weight="bold" font-size="7" text-anchor="middle" fill="#111" stroke="#111" stroke-width="0.22" textLength="89" lengthAdjust="spacingAndGlyphs" transform="rotate(-90 28.5 317.3)">NP-specific antibodies (liter<tspan dy="-2" font-size="4.5">−1</tspan><tspan dy="2">)</tspan></text>
<rect x="56" y="286.6" width="6.399999999999999" height="82.29999999999995" fill="#fa0000" stroke="#9a0000" stroke-width="0.75"/>
<line x1="68.65" y1="292.2" x2="68.65" y2="303" stroke="#777" stroke-width="0.8"/>
<line x1="67.15" y1="292.2" x2="70.15" y2="292.2" stroke="#777" stroke-width="0.8"/>
<rect x="65.7" y="303" width="5.8999999999999915" height="65.89999999999998" fill="#0808f0" stroke="#000080" stroke-width="0.75"/>
<rect x="80.7" y="348.3" width="6.5" height="20.599999999999966" fill="#fa0000" stroke="#9a0000" stroke-width="0.75"/>
<line x1="93.25" y1="359.8" x2="93.25" y2="361.7" stroke="#777" stroke-width="0.8"/>
<line x1="91.75" y1="359.8" x2="94.75" y2="359.8" stroke="#777" stroke-width="0.8"/>
<rect x="90" y="361.7" width="6.5" height="7.199999999999989" fill="#0808f0" stroke="#000080" stroke-width="0.75"/>
<line x1="108.7" y1="320" x2="108.7" y2="332" stroke="#777" stroke-width="0.8"/>
<line x1="107.2" y1="320" x2="110.2" y2="320" stroke="#777" stroke-width="0.8"/>
<rect x="105.2" y="332" width="7.0" height="36.89999999999998" fill="#fa0000" stroke="#9a0000" stroke-width="0.75"/>
<line x1="118.05" y1="358" x2="118.05" y2="361.7" stroke="#777" stroke-width="0.8"/>
<line x1="116.55" y1="358" x2="119.55" y2="358" stroke="#777" stroke-width="0.8"/>
<rect x="114.8" y="361.7" width="6.5" height="7.199999999999989" fill="#0808f0" stroke="#000080" stroke-width="0.75"/>
<rect x="130.5" y="286.2" width="5.800000000000011" height="82.69999999999999" fill="#fa0000" stroke="#9a0000" stroke-width="0.75"/>
<rect x="139.3" y="352.2" width="6.599999999999994" height="16.69999999999999" fill="#0808f0" stroke="#000080" stroke-width="0.75"/>
<text x="88.8" y="341.9" font-family="Liberation Serif" font-weight="bold" font-size="5.2" text-anchor="middle" fill="#111" stroke="#111" stroke-width="0.22" textLength="14" lengthAdjust="spacingAndGlyphs">p&lt;0.01</text>
<line x1="81.7" y1="345" x2="94.8" y2="345" stroke="#333" stroke-width="0.7"/>
<polygon points="81.7,345 83.7,344 83.7,346" fill="#333"/>
<polygon points="94.8,345 92.8,344 92.8,346" fill="#333"/>
<text x="113.9" y="312.9" font-family="Liberation Serif" font-weight="bold" font-size="5.2" text-anchor="middle" fill="#111" stroke="#111" stroke-width="0.22" textLength="16" lengthAdjust="spacingAndGlyphs">p&lt;0.001</text>
<line x1="108" y1="317" x2="118.7" y2="317" stroke="#333" stroke-width="0.7"/>
<polygon points="108,317 110,316 110,318" fill="#333"/>
<polygon points="118.7,317 116.7,316 116.7,318" fill="#333"/>
<text x="138.3" y="279.5" font-family="Liberation Serif" font-weight="bold" font-size="5.2" text-anchor="middle" fill="#111" stroke="#111" stroke-width="0.22" textLength="17" lengthAdjust="spacingAndGlyphs">p&lt;0.001</text>
<line x1="132.7" y1="282.9" x2="143.7" y2="282.9" stroke="#333" stroke-width="0.7"/>
<polygon points="132.7,282.9 134.7,281.9 134.7,283.9" fill="#333"/>
<polygon points="143.7,282.9 141.7,281.9 141.7,283.9" fill="#333"/>
<rect x="104.2" y="279.6" width="4.8" height="6.6" fill="#fa0000"/>
<rect x="104.2" y="289.2" width="4.8" height="6.6" fill="#0808f0"/>
<text x="111" y="285" font-family="Liberation Serif" font-weight="bold" font-size="7" text-anchor="start" fill="#111" stroke="#111" stroke-width="0.22" textLength="10.2" lengthAdjust="spacingAndGlyphs">WT</text>
<text x="111" y="295" font-family="Liberation Serif" font-weight="bold" font-size="7" text-anchor="start" fill="#111" stroke="#111" stroke-width="0.22" textLength="7" lengthAdjust="spacingAndGlyphs">KI</text>
<text x="65.8" y="374.0" font-family="Liberation Serif" font-weight="bold" font-size="7" text-anchor="end" fill="#111" stroke="#111" stroke-width="0.22" textLength="21" lengthAdjust="spacingAndGlyphs" transform="rotate(-45 65.8 374.0)">NP-LPS</text>
<text x="85.8" y="375.5" font-family="Liberation Serif" font-weight="bold" font-size="7" text-anchor="end" fill="#111" stroke="#111" stroke-width="0.22" textLength="22" lengthAdjust="spacingAndGlyphs" transform="rotate(-45 85.8 375.5)">NP-CGG</text>
<text x="114.8" y="373.0" font-family="Liberation Serif" font-weight="bold" font-size="7" text-anchor="end" fill="#111" stroke="#111" stroke-width="0.22" textLength="21" lengthAdjust="spacingAndGlyphs" transform="rotate(-45 114.8 373.0)">NP-LPS</text>
<text x="138.8" y="374.0" font-family="Liberation Serif" font-weight="bold" font-size="7" text-anchor="end" fill="#111" stroke="#111" stroke-width="0.22" textLength="22" lengthAdjust="spacingAndGlyphs" transform="rotate(-45 138.8 374.0)">NP-CGG</text>
<line x1="50" y1="391.2" x2="85" y2="391.2" stroke="#444" stroke-width="1"/>
<text x="66.3" y="400.8" font-family="Liberation Serif" font-weight="bold" font-size="7.2" text-anchor="middle" fill="#111" stroke="#111" stroke-width="0.22" textLength="11.5" lengthAdjust="spacingAndGlyphs">IgM</text>
<line x1="101.3" y1="391.2" x2="135" y2="391.2" stroke="#444" stroke-width="1"/>
<text x="117.6" y="400.8" font-family="Liberation Serif" font-weight="bold" font-size="7.2" text-anchor="middle" fill="#111" stroke="#111" stroke-width="0.22" textLength="11" lengthAdjust="spacingAndGlyphs">IgG</text>
<text x="162.5" y="285.6" font-family="Liberation Sans" font-weight="bold" font-size="12.4" text-anchor="start" fill="#000">G</text>
<line x1="198.2" y1="273.5" x2="198.2" y2="373.5" stroke="#707070" stroke-width="1"/>
<line x1="198.2" y1="373.5" x2="321.3" y2="373.5" stroke="#707070" stroke-width="1"/>
<line x1="196.7" y1="373.5" x2="198.2" y2="373.5" stroke="#707070" stroke-width="0.7"/>
<text x="197" y="375.5" font-family="Liberation Serif" font-weight="bold" font-size="6" text-anchor="end" fill="#111" stroke="#111" stroke-width="0.22">0</text>
<line x1="196.7" y1="340.5" x2="198.2" y2="340.5" stroke="#707070" stroke-width="0.7"/>
<text x="197" y="342.5" font-family="Liberation Serif" font-weight="bold" font-size="6" text-anchor="end" fill="#111" stroke="#111" stroke-width="0.22">300</text>
<line x1="196.7" y1="307.5" x2="198.2" y2="307.5" stroke="#707070" stroke-width="0.7"/>
<text x="197" y="309.5" font-family="Liberation Serif" font-weight="bold" font-size="6" text-anchor="end" fill="#111" stroke="#111" stroke-width="0.22">600</text>
<line x1="196.7" y1="274.5" x2="198.2" y2="274.5" stroke="#707070" stroke-width="0.7"/>
<text x="197" y="276.5" font-family="Liberation Serif" font-weight="bold" font-size="6" text-anchor="end" fill="#111" stroke="#111" stroke-width="0.22">900</text>
<text x="185.3" y="323.1" font-family="Liberation Serif" font-weight="bold" font-size="7" text-anchor="middle" fill="#111" stroke="#111" stroke-width="0.22" textLength="95.4" lengthAdjust="spacingAndGlyphs" transform="rotate(-90 185.3 323.1)">Total antibodies in serum (ng/ml)</text>
<line x1="205.35000000000002" y1="338.9" x2="205.35000000000002" y2="342.3" stroke="#777" stroke-width="0.8"/>
<line x1="204.10000000000002" y1="338.9" x2="206.60000000000002" y2="338.9" stroke="#777" stroke-width="0.8"/>
<rect x="202.8" y="342.3" width="5.099999999999994" height="31.19999999999999" fill="#fa0000" stroke="#9a0000" stroke-width="0.75"/>
<line x1="212.95" y1="349" x2="212.95" y2="352" stroke="#777" stroke-width="0.8"/>
<line x1="211.7" y1="349" x2="214.2" y2="349" stroke="#777" stroke-width="0.8"/>
<rect x="210.2" y="352" width="5.5" height="21.5" fill="#0808f0" stroke="#000080" stroke-width="0.75"/>
<line x1="226.25" y1="285.4" x2="226.25" y2="297" stroke="#777" stroke-width="0.8"/>
<line x1="225.0" y1="285.4" x2="227.5" y2="285.4" stroke="#777" stroke-width="0.8"/>
<rect x="223.5" y="297" width="5.5" height="76.5" fill="#fa0000" stroke="#9a0000" stroke-width="0.75"/>
<line x1="233.65" y1="307.3" x2="233.65" y2="319" stroke="#777" stroke-width="0.8"/>
<line x1="232.4" y1="307.3" x2="234.9" y2="307.3" stroke="#777" stroke-width="0.8"/>
<rect x="231" y="319" width="5.300000000000011" height="54.5" fill="#0808f0" stroke="#000080" stroke-width="0.75"/>
<line x1="246.3" y1="346" x2="246.3" y2="348.9" stroke="#777" stroke-width="0.8"/>
<line x1="245.05" y1="346" x2="247.55" y2="346" stroke="#777" stroke-width="0.8"/>
<rect x="243.7" y="348.9" width="5.200000000000017" height="24.600000000000023" fill="#fa0000" stroke="#9a0000" stroke-width="0.75"/>
<line x1="254.0" y1="342.8" x2="254.0" y2="347.2" stroke="#777" stroke-width="0.8"/>
<line x1="252.75" y1="342.8" x2="255.25" y2="342.8" stroke="#777" stroke-width="0.8"/>
<rect x="251.3" y="347.2" width="5.399999999999977" height="26.30000000000001" fill="#0808f0" stroke="#000080" stroke-width="0.75"/>
<line x1="266.95000000000005" y1="366" x2="266.95000000000005" y2="367" stroke="#777" stroke-width="0.8"/>
<line x1="265.70000000000005" y1="366" x2="268.20000000000005" y2="366" stroke="#777" stroke-width="0.8"/>
<rect x="264.3" y="367" width="5.300000000000011" height="6.5" fill="#fa0000" stroke="#9a0000" stroke-width="0.75"/>
<line x1="274.45" y1="365.2" x2="274.45" y2="366.2" stroke="#777" stroke-width="0.8"/>
<line x1="273.2" y1="365.2" x2="275.7" y2="365.2" stroke="#777" stroke-width="0.8"/>
<rect x="271.7" y="366.2" width="5.5" height="7.300000000000011" fill="#0808f0" stroke="#000080" stroke-width="0.75"/>
<line x1="287.6" y1="363.6" x2="287.6" y2="364.6" stroke="#777" stroke-width="0.8"/>
<line x1="286.35" y1="363.6" x2="288.85" y2="363.6" stroke="#777" stroke-width="0.8"/>
<rect x="284.9" y="364.6" width="5.400000000000034" height="8.899999999999977" fill="#fa0000" stroke="#9a0000" stroke-width="0.75"/>
<line x1="295.3" y1="362.6" x2="295.3" y2="363.6" stroke="#777" stroke-width="0.8"/>
<line x1="294.05" y1="362.6" x2="296.55" y2="362.6" stroke="#777" stroke-width="0.8"/>
<rect x="292.6" y="363.6" width="5.399999999999977" height="9.899999999999977" fill="#0808f0" stroke="#000080" stroke-width="0.75"/>
<line x1="308.4" y1="363.9" x2="308.4" y2="364.9" stroke="#777" stroke-width="0.8"/>
<line x1="307.15" y1="363.9" x2="309.65" y2="363.9" stroke="#777" stroke-width="0.8"/>
<rect x="305.7" y="364.9" width="5.400000000000034" height="8.600000000000023" fill="#fa0000" stroke="#9a0000" stroke-width="0.75"/>
<line x1="315.75" y1="365.5" x2="315.75" y2="366.5" stroke="#777" stroke-width="0.8"/>
<line x1="314.5" y1="365.5" x2="317.0" y2="365.5" stroke="#777" stroke-width="0.8"/>
<rect x="313.1" y="366.5" width="5.2999999999999545" height="7.0" fill="#0808f0" stroke="#000080" stroke-width="0.75"/>
<rect x="279.6" y="288.3" width="4.2" height="6.1" fill="#fa0000"/>
<rect x="279.6" y="297.7" width="4.2" height="6.3" fill="#0808f0"/>
<text x="286.2" y="294" font-family="Liberation Serif" font-weight="bold" font-size="7" text-anchor="start" fill="#111" stroke="#111" stroke-width="0.22" textLength="9.6" lengthAdjust="spacingAndGlyphs">WT</text>
<text x="286.2" y="303.7" font-family="Liberation Serif" font-weight="bold" font-size="7" text-anchor="start" fill="#111" stroke="#111" stroke-width="0.22" textLength="6.5" lengthAdjust="spacingAndGlyphs">KI</text>
<text x="208.8" y="378.5" font-family="Liberation Serif" font-weight="bold" font-size="7" text-anchor="end" fill="#111" stroke="#111" stroke-width="0.22" textLength="10.5" lengthAdjust="spacingAndGlyphs" transform="rotate(-45 208.8 378.5)">Veh</text>
<text x="229.8" y="378.0" font-family="Liberation Serif" font-weight="bold" font-size="7" text-anchor="end" fill="#111" stroke="#111" stroke-width="0.22" textLength="21" lengthAdjust="spacingAndGlyphs" transform="rotate(-45 229.8 378.0)">NP-LPS</text>
<text x="250.3" y="377.5" font-family="Liberation Serif" font-weight="bold" font-size="7" text-anchor="end" fill="#111" stroke="#111" stroke-width="0.22" textLength="22" lengthAdjust="spacingAndGlyphs" transform="rotate(-45 250.3 377.5)">NP-CGG</text>
<text x="272.8" y="378.0" font-family="Liberation Serif" font-weight="bold" font-size="7" text-anchor="end" fill="#111" stroke="#111" stroke-width="0.22" textLength="10.5" lengthAdjust="spacingAndGlyphs" transform="rotate(-45 272.8 378.0)">Veh</text>
<text x="292.5" y="378.5" font-family="Liberation Serif" font-weight="bold" font-size="7" text-anchor="end" fill="#111" stroke="#111" stroke-width="0.22" textLength="21" lengthAdjust="spacingAndGlyphs" transform="rotate(-45 292.5 378.5)">NP-LPS</text>
<text x="313.1" y="377.5" font-family="Liberation Serif" font-weight="bold" font-size="7" text-anchor="end" fill="#111" stroke="#111" stroke-width="0.22" textLength="22" lengthAdjust="spacingAndGlyphs" transform="rotate(-45 313.1 377.5)">NP-CGG</text>
<line x1="203.3" y1="396.5" x2="251.7" y2="396.5" stroke="#333" stroke-width="0.9"/>
<text x="225" y="406" font-family="Liberation Serif" font-weight="bold" font-size="7.2" text-anchor="middle" fill="#111" stroke="#111" stroke-width="0.22" textLength="11.5" lengthAdjust="spacingAndGlyphs">IgM</text>
<line x1="265.9" y1="396.5" x2="314.8" y2="396.5" stroke="#333" stroke-width="0.9"/>
<text x="287.6" y="406" font-family="Liberation Serif" font-weight="bold" font-size="7.2" text-anchor="middle" fill="#111" stroke="#111" stroke-width="0.22" textLength="11" lengthAdjust="spacingAndGlyphs">IgG</text>
<text x="331.0" y="285.6" font-family="Liberation Sans" font-weight="bold" font-size="12.4" text-anchor="start" fill="#000">H</text>
<text x="435.2" y="271.3" font-family="Liberation Serif" font-weight="normal" font-size="10.5" text-anchor="middle" fill="#222" textLength="47" lengthAdjust="spacingAndGlyphs">Rescue Expt</text>
<text x="447.2" y="395" font-family="Liberation Serif" font-weight="bold" font-size="9.5" text-anchor="middle" fill="#111" stroke="#111" stroke-width="0.22" textLength="36.3" lengthAdjust="spacingAndGlyphs">NP-CGG</text>
<line x1="378.2" y1="281" x2="378.2" y2="375.2" stroke="#707070" stroke-width="1"/>
<line x1="378.2" y1="375.2" x2="431.7" y2="375.2" stroke="#707070" stroke-width="1"/>
<line x1="376.7" y1="375.2" x2="378.2" y2="375.2" stroke="#707070" stroke-width="0.7"/>
<text x="377" y="377.0" font-family="Liberation Sans" font-weight="normal" font-size="5.2" text-anchor="end" fill="#444">0</text>
<line x1="376.7" y1="356.53999999999996" x2="378.2" y2="356.53999999999996" stroke="#707070" stroke-width="0.7"/>
<text x="377" y="358.34" font-family="Liberation Sans" font-weight="normal" font-size="5.2" text-anchor="end" fill="#444">50,000</text>
<line x1="376.7" y1="337.88" x2="378.2" y2="337.88" stroke="#707070" stroke-width="0.7"/>
<text x="377" y="339.68" font-family="Liberation Sans" font-weight="normal" font-size="5.2" text-anchor="end" fill="#444">100,000</text>
<line x1="376.7" y1="319.21999999999997" x2="378.2" y2="319.21999999999997" stroke="#707070" stroke-width="0.7"/>
<text x="377" y="321.02" font-family="Liberation Sans" font-weight="normal" font-size="5.2" text-anchor="end" fill="#444">150,000</text>
<line x1="376.7" y1="300.56" x2="378.2" y2="300.56" stroke="#707070" stroke-width="0.7"/>
<text x="377" y="302.36" font-family="Liberation Sans" font-weight="normal" font-size="5.2" text-anchor="end" fill="#444">200,000</text>
<line x1="376.7" y1="281.9" x2="378.2" y2="281.9" stroke="#707070" stroke-width="0.7"/>
<text x="377" y="283.7" font-family="Liberation Sans" font-weight="normal" font-size="5.2" text-anchor="end" fill="#444">250,000</text>
<text x="352.5" y="324.5" font-family="Liberation Serif" font-weight="bold" font-size="6.8" text-anchor="middle" fill="#111" stroke="#111" stroke-width="0.22" textLength="84.7" lengthAdjust="spacingAndGlyphs" transform="rotate(-90 352.5 324.5)">NP-specific antibodies (liter<tspan dy="-2" font-size="4.5">−1</tspan><tspan dy="2">)</tspan></text>
<line x1="387.6" y1="368.3" x2="387.6" y2="370.4" stroke="#777" stroke-width="0.8"/>
<line x1="386.35" y1="368.3" x2="388.85" y2="368.3" stroke="#777" stroke-width="0.8"/>
<rect x="384.1" y="370.4" width="7.0" height="4.800000000000011" fill="#fa0000" stroke="#9a0000" stroke-width="0.75"/>
<line x1="397.70000000000005" y1="368.3" x2="397.70000000000005" y2="370.4" stroke="#777" stroke-width="0.8"/>
<line x1="396.45000000000005" y1="368.3" x2="398.95000000000005" y2="368.3" stroke="#777" stroke-width="0.8"/>
<rect x="394.3" y="370.4" width="6.800000000000011" height="4.800000000000011" fill="#0808f0" stroke="#000080" stroke-width="0.75"/>
<line x1="414.6" y1="288.2" x2="414.6" y2="305.9" stroke="#777" stroke-width="0.8"/>
<line x1="413.35" y1="288.2" x2="415.85" y2="288.2" stroke="#777" stroke-width="0.8"/>
<rect x="411.2" y="305.9" width="6.800000000000011" height="69.30000000000001" fill="#fa0000" stroke="#9a0000" stroke-width="0.75"/>
<line x1="424.5" y1="286.3" x2="424.5" y2="298.4" stroke="#777" stroke-width="0.8"/>
<line x1="423.25" y1="286.3" x2="425.75" y2="286.3" stroke="#777" stroke-width="0.8"/>
<rect x="421" y="298.4" width="7" height="76.80000000000001" fill="#0808f0" stroke="#000080" stroke-width="0.75"/>
<rect x="387.7" y="283.5" width="4.2" height="5.3" fill="#fa0000"/>
<rect x="387.7" y="290.8" width="4.2" height="5.7" fill="#0808f0"/>
<text x="394" y="288.6" font-family="Liberation Serif" font-weight="bold" font-size="7" text-anchor="start" fill="#111" stroke="#111" stroke-width="0.22" textLength="10.2" lengthAdjust="spacingAndGlyphs">WT</text>
<text x="394" y="296" font-family="Liberation Serif" font-weight="bold" font-size="7" text-anchor="start" fill="#111" stroke="#111" stroke-width="0.22" textLength="6.8" lengthAdjust="spacingAndGlyphs">KI</text>
<text x="391.2" y="383.3" font-family="Liberation Serif" font-weight="bold" font-size="7" text-anchor="middle" fill="#111" stroke="#111" stroke-width="0.22" textLength="12.5" lengthAdjust="spacingAndGlyphs">IgM</text>
<text x="419.8" y="383.3" font-family="Liberation Serif" font-weight="bold" font-size="7" text-anchor="middle" fill="#111" stroke="#111" stroke-width="0.22" textLength="11.5" lengthAdjust="spacingAndGlyphs">IgG</text>
<line x1="466.7" y1="280" x2="466.7" y2="375.2" stroke="#707070" stroke-width="1"/>
<line x1="466.7" y1="375.2" x2="514.3" y2="375.2" stroke="#707070" stroke-width="1"/>
<line x1="465.2" y1="375.2" x2="466.7" y2="375.2" stroke="#707070" stroke-width="0.7"/>
<text x="465.5" y="377.3" font-family="Liberation Serif" font-weight="bold" font-size="6.5" text-anchor="end" fill="#111" stroke="#111" stroke-width="0.22">0</text>
<line x1="465.2" y1="351.59999999999997" x2="466.7" y2="351.59999999999997" stroke="#707070" stroke-width="0.7"/>
<text x="465.5" y="353.7" font-family="Liberation Serif" font-weight="bold" font-size="6.5" text-anchor="end" fill="#111" stroke="#111" stroke-width="0.22">50</text>
<line x1="465.2" y1="328.0" x2="466.7" y2="328.0" stroke="#707070" stroke-width="0.7"/>
<text x="465.5" y="330.1" font-family="Liberation Serif" font-weight="bold" font-size="6.5" text-anchor="end" fill="#111" stroke="#111" stroke-width="0.22">100</text>
<line x1="465.2" y1="304.4" x2="466.7" y2="304.4" stroke="#707070" stroke-width="0.7"/>
<text x="465.5" y="306.5" font-family="Liberation Serif" font-weight="bold" font-size="6.5" text-anchor="end" fill="#111" stroke="#111" stroke-width="0.22">150</text>
<line x1="465.2" y1="280.79999999999995" x2="466.7" y2="280.79999999999995" stroke="#707070" stroke-width="0.7"/>
<text x="465.5" y="282.9" font-family="Liberation Serif" font-weight="bold" font-size="6.5" text-anchor="end" fill="#111" stroke="#111" stroke-width="0.22">200</text>
<text x="449" y="325" font-family="Liberation Serif" font-weight="bold" font-size="6.8" text-anchor="middle" fill="#111" stroke="#111" stroke-width="0.22" textLength="88.7" lengthAdjust="spacingAndGlyphs" transform="rotate(-90 449 325)">Total antibodies in serum (ng/ml)</text>
<line x1="474.55" y1="316.3" x2="474.55" y2="322.5" stroke="#777" stroke-width="0.8"/>
<line x1="473.3" y1="316.3" x2="475.8" y2="316.3" stroke="#777" stroke-width="0.8"/>
<rect x="471.3" y="322.5" width="6.5" height="52.69999999999999" fill="#fa0000" stroke="#9a0000" stroke-width="0.75"/>
<line x1="484.04999999999995" y1="305.1" x2="484.04999999999995" y2="313.8" stroke="#777" stroke-width="0.8"/>
<line x1="482.79999999999995" y1="305.1" x2="485.29999999999995" y2="305.1" stroke="#777" stroke-width="0.8"/>
<rect x="480.9" y="313.8" width="6.300000000000011" height="61.39999999999998" fill="#0808f0" stroke="#000080" stroke-width="0.75"/>
<line x1="499.75" y1="338.5" x2="499.75" y2="341.3" stroke="#777" stroke-width="0.8"/>
<line x1="498.5" y1="338.5" x2="501.0" y2="338.5" stroke="#777" stroke-width="0.8"/>
<rect x="496.5" y="341.3" width="6.5" height="33.89999999999998" fill="#fa0000" stroke="#9a0000" stroke-width="0.75"/>
<line x1="509.3" y1="346" x2="509.3" y2="348.9" stroke="#777" stroke-width="0.8"/>
<line x1="508.05" y1="346" x2="510.55" y2="346" stroke="#777" stroke-width="0.8"/>
<rect x="506" y="348.9" width="6.600000000000023" height="26.30000000000001" fill="#0808f0" stroke="#000080" stroke-width="0.75"/>
<rect x="476" y="282.5" width="4.2" height="5.7" fill="#fa0000"/>
<rect x="476" y="289.9" width="4.2" height="5.7" fill="#0808f0"/>
<text x="482.4" y="288.3" font-family="Liberation Serif" font-weight="bold" font-size="7" text-anchor="start" fill="#111" stroke="#111" stroke-width="0.22" textLength="10.1" lengthAdjust="spacingAndGlyphs">WT</text>
<text x="482.4" y="295.8" font-family="Liberation Serif" font-weight="bold" font-size="7" text-anchor="start" fill="#111" stroke="#111" stroke-width="0.22" textLength="6.8" lengthAdjust="spacingAndGlyphs">KI</text>
<text x="477.8" y="383.3" font-family="Liberation Serif" font-weight="bold" font-size="7" text-anchor="middle" fill="#111" stroke="#111" stroke-width="0.22" textLength="12.5" lengthAdjust="spacingAndGlyphs">IgM</text>
<text x="504.6" y="383.3" font-family="Liberation Serif" font-weight="bold" font-size="7" text-anchor="middle" fill="#111" stroke="#111" stroke-width="0.22" textLength="11.5" lengthAdjust="spacingAndGlyphs">IgG</text>
</svg>
</body></html>
